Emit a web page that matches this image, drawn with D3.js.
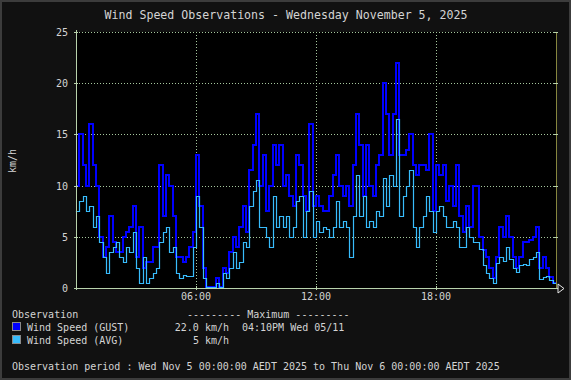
<!DOCTYPE html>
<html>
<head>
<meta charset="utf-8">
<script src="https://cdn.jsdelivr.net/npm/d3@7"></script>
<style>
  html, body { margin: 0; padding: 0; background: #111111; }
  svg { display: block; }
  text { font-family: "DejaVu Sans Mono", monospace; fill: #d4d4d4; }
</style>
</head>
<body>
<svg id="chart" width="571" height="380"></svg>
<script>
// ---- data (10-minute intervals starting Wed Nov 5 2025 00:00) ----
const startTime = Date.UTC(2025, 10, 5, 0, 0);
const endTime = Date.UTC(2025, 10, 6, 0, 0);
const stepMinutes = 10;

const gustSpeed = [
  10, 15, 12, 10, 16, 12, 10, 5, 3, 4, 7, 4.5, 3.5, 3.5, 5, 5.5, 6, 8, 3, 6, 2, 2.5, 2.5, 4,
  4, 12, 7, 11, 10, 7, 3, 3, 2.5, 3, 4, 5.5, 13, 8, 2, 0, 0, 0, 1, 0, 2, 1.5, 3.5, 5,
  4, 6, 8, 5.5, 11.5, 14, 17, 10, 13, 7.5, 10, 14, 12, 14, 10, 11, 9, 8, 13, 12, 9, 7.5, 16, 8,
  9, 8, 7.5, 7.5, 9, 11, 13, 10, 9, 10, 8, 12, 17, 14, 9, 14, 10, 9, 12, 13, 20, 17, 13, 17,
  22, 13, 13, 13.5, 15, 12, 11, 12, 12, 11.5, 15, 7.5, 12, 11, 12, 8.5, 10, 8, 12, 7, 5.5, 8, 6, 10,
  10, 5, 3.7, 3, 2, 1, 3, 6, 5, 7, 5, 3, 2, 3, 4.5, 4.5, 4.7, 5, 6, 2, 3, 2, 1.1, 0.5
];
const avgSpeed = [
  7.5, 8.5, 9, 7.5, 8, 6, 7, 4.5, 3, 1.5, 3.5, 4, 4.5, 3, 2.5, 4, 3.5, 5.5, 2, 0.5, 3, 0.5, 1, 1.5,
  2, 4.5, 5.5, 6, 3.5, 4, 1.5, 1, 1.3, 1.2, 1.2, 4, 9, 6, 1, 0, 0, 0, 0.5, 0, 1.5, 1, 2, 3.5,
  2, 2.5, 4.5, 4, 8, 9.5, 10.5, 6, 6, 5, 4, 9, 6, 7, 6, 7, 5, 6, 8.5, 9, 5, 7.5, 9.5, 5,
  6.5, 5.5, 6, 5.8, 5, 6, 8.5, 6, 6.5, 6, 3, 7, 11, 7, 9, 6, 6.5, 6, 7.5, 7, 10.7, 8, 11, 10,
  16.5, 7, 9, 10, 11.5, 6, 4, 6, 7, 9, 7.5, 5.5, 7.5, 8, 7, 6, 6, 6.5, 6, 4, 4, 6, 5, 4.5,
  4.5, 3.8, 2.2, 1.5, 1, 0.5, 2.4, 3, 2.6, 4, 2.8, 2, 1.6, 2.2, 2.3, 2.2, 2.8, 3, 3.5, 0.9, 1.1, 1.2, 0.8, 0.5
];
const yTickValues = [0, 5, 10, 15, 20, 25];
const xTickLabels = ["06:00", "12:00", "18:00"];
const xTickHours = [6, 12, 18];

const titleText = "Wind Speed Observations - Wednesday November 5, 2025";
const yAxisLabel = "km/h";
const seriesNames = ["Wind Speed (GUST)", "Wind Speed (AVG)"];
const maxHeader = "--------- Maximum ---------";
const avgMaxText = "5 km/h";
const periodText = "Observation period : Wed Nov 5 00:00:00 AEDT 2025 to Thu Nov 6 00:00:00 AEDT 2025";

// ---- layout ----
const W = 571, H = 380;
const L = 76, R = 556, T = 32, B = 288;
const gustColor = "#0000ff";
const avgColor = "#38bcfc";
const gridColor = "#a6c89e";
const axisColor = "#b8d2ac";

const svg = d3.select("#chart");
svg.append("rect").attr("x", 0).attr("y", 0).attr("width", W).attr("height", H).attr("fill", "#111111");
svg.append("rect").attr("x", 1).attr("y", 1).attr("width", W - 2).attr("height", H - 2)
  .attr("fill", "none").attr("stroke", "#3c3c3c").attr("stroke-width", 2);

const x = d3.scaleUtc().domain([startTime, endTime]).range([L, R]);
const y = d3.scaleLinear().domain([0, 25]).range([B, T]);

// plot background
svg.append("rect").attr("x", L).attr("y", T).attr("width", R - L).attr("height", B - T).attr("fill", "#000000");

// grid
const grid = svg.append("g").attr("shape-rendering", "crispEdges");
grid.selectAll("line.h").data(yTickValues.filter(v => v > 0)).join("line")
  .attr("x1", L).attr("x2", R)
  .attr("y1", d => Math.round(y(d)) + 0.5).attr("y2", d => Math.round(y(d)) + 0.5)
  .attr("stroke", gridColor).attr("stroke-dasharray", "1,2");
grid.selectAll("line.v").data(xTickHours).join("line")
  .attr("x1", d => Math.round(x(startTime + d * 3600e3)) + 0.5)
  .attr("x2", d => Math.round(x(startTime + d * 3600e3)) + 0.5)
  .attr("y1", T).attr("y2", B)
  .attr("stroke", gridColor).attr("stroke-dasharray", "1,2");

// series
function timeOf(i) { return startTime + i * stepMinutes * 60e3; }
function stepData(arr) {
  const pts = arr.map((v, i) => [timeOf(i), v]);
  pts.push([timeOf(arr.length), arr[arr.length - 1]]);
  return pts;
}
const gustLine = d3.line()
  .x(d => Math.round(x(d[0])))
  .y(d => Math.min(Math.round(y(d[1])), B - 1))
  .curve(d3.curveStepAfter);
const avgLine = d3.line()
  .x(d => Math.round(x(d[0])) + 0.5)
  .y(d => Math.min(Math.round(y(d[1])), B - 1) + 0.5)
  .curve(d3.curveStepAfter);

svg.append("path").datum(stepData(gustSpeed)).attr("d", gustLine)
  .attr("fill", "none").attr("stroke", gustColor).attr("stroke-width", 2)
  .attr("shape-rendering", "crispEdges");
svg.append("path").datum(stepData(avgSpeed)).attr("d", avgLine)
  .attr("fill", "none").attr("stroke", avgColor).attr("stroke-width", 1.2)
  .attr("stroke-linejoin", "miter").attr("stroke-linecap", "square");

// axes lines
const ax = svg.append("g").attr("shape-rendering", "crispEdges");
ax.append("line").attr("x1", L - 2).attr("x2", R + 2).attr("y1", B + 0.5).attr("y2", B + 0.5).attr("stroke", axisColor);
ax.append("line").attr("x1", L + 0.5).attr("x2", L + 0.5).attr("y1", T - 2).attr("y2", B + 2).attr("stroke", axisColor);
ax.append("line").attr("x1", R + 0.5).attr("x2", R + 0.5).attr("y1", T).attr("y2", B).attr("stroke", "#86863e");
// tick marks
ax.selectAll("line.yt").data(yTickValues).join("line")
  .attr("x1", L - 2).attr("x2", L + 2)
  .attr("y1", d => Math.round(y(d)) + 0.5).attr("y2", d => Math.round(y(d)) + 0.5)
  .attr("stroke", axisColor);
ax.selectAll("line.yr").data(yTickValues.filter(v => v > 0)).join("line")
  .attr("x1", R - 2).attr("x2", R + 2)
  .attr("y1", d => Math.round(y(d)) + 0.5).attr("y2", d => Math.round(y(d)) + 0.5)
  .attr("stroke", axisColor);
ax.selectAll("line.xt").data(xTickHours).join("line")
  .attr("x1", d => Math.round(x(startTime + d * 3600e3)) + 0.5)
  .attr("x2", d => Math.round(x(startTime + d * 3600e3)) + 0.5)
  .attr("y1", B - 2).attr("y2", B + 2).attr("stroke", axisColor);
// arrow at end of x axis
svg.append("path").attr("d", `M${R + 2},${B - 4} L${R + 8},${B + 0.5} L${R + 2},${B + 5} Z`)
  .attr("fill", "#111").attr("stroke", "#e8e8e8").attr("stroke-width", 1);

// tick labels
svg.selectAll("text.yl").data(yTickValues).join("text")
  .attr("x", 68).attr("y", d => y(d) + 4)
  .attr("text-anchor", "end").attr("font-size", "10px").text(d => d);
svg.selectAll("text.xl").data(xTickHours).join("text")
  .attr("x", (d, i) => x(startTime + d * 3600e3))
  .attr("y", 300).attr("text-anchor", "middle").attr("font-size", "10px")
  .text((d, i) => xTickLabels[i]);

// y axis label
svg.append("text").attr("transform", "translate(16,161) rotate(-90)")
  .attr("text-anchor", "middle").attr("font-size", "10px").text(yAxisLabel);

// title
svg.append("text").attr("x", 286).attr("y", 19).attr("text-anchor", "middle")
  .attr("font-size", "11.6px").attr("fill", "#e2e2e2").text(titleText);

// legend
const gustMax = d3.max(gustSpeed);
const maxIdx = gustSpeed.indexOf(gustMax);
const maxTime = new Date(timeOf(maxIdx + 1));
const hh = maxTime.getUTCHours();
const h12 = ((hh + 11) % 12) + 1;
const maxTimeText = String(h12).padStart(2, "0") + ":" + String(maxTime.getUTCMinutes()).padStart(2, "0") +
  (hh >= 12 ? "PM" : "AM") + " Wed 05/11";

svg.append("text").attr("x", 12).attr("y", 318).attr("font-size", "10px").text("Observation");
svg.append("text").attr("x", 187).attr("y", 318).attr("font-size", "10px").text(maxHeader);

const legendRows = [
  { name: seriesNames[0], color: gustColor, val: gustMax.toFixed(1) + " km/h", when: maxTimeText, y: 331 },
  { name: seriesNames[1], color: avgColor, val: avgMaxText, when: "", y: 344 }
];
legendRows.forEach(r => {
  svg.append("rect").attr("x", 12.5).attr("y", r.y - 8.5).attr("width", 8).attr("height", 8)
    .attr("fill", r.color).attr("stroke", "#8a8a8a").attr("stroke-width", 1);
  svg.append("text").attr("x", 27).attr("y", r.y).attr("font-size", "10px").text(r.name);
  svg.append("text").attr("x", 229).attr("y", r.y).attr("text-anchor", "end").attr("font-size", "10px").text(r.val);
  if (r.when) svg.append("text").attr("x", 242).attr("y", r.y).attr("font-size", "10px").text(r.when);
});

svg.append("text").attr("x", 12).attr("y", 370).attr("font-size", "10px").text(periodText);
</script>
</body>
</html>
